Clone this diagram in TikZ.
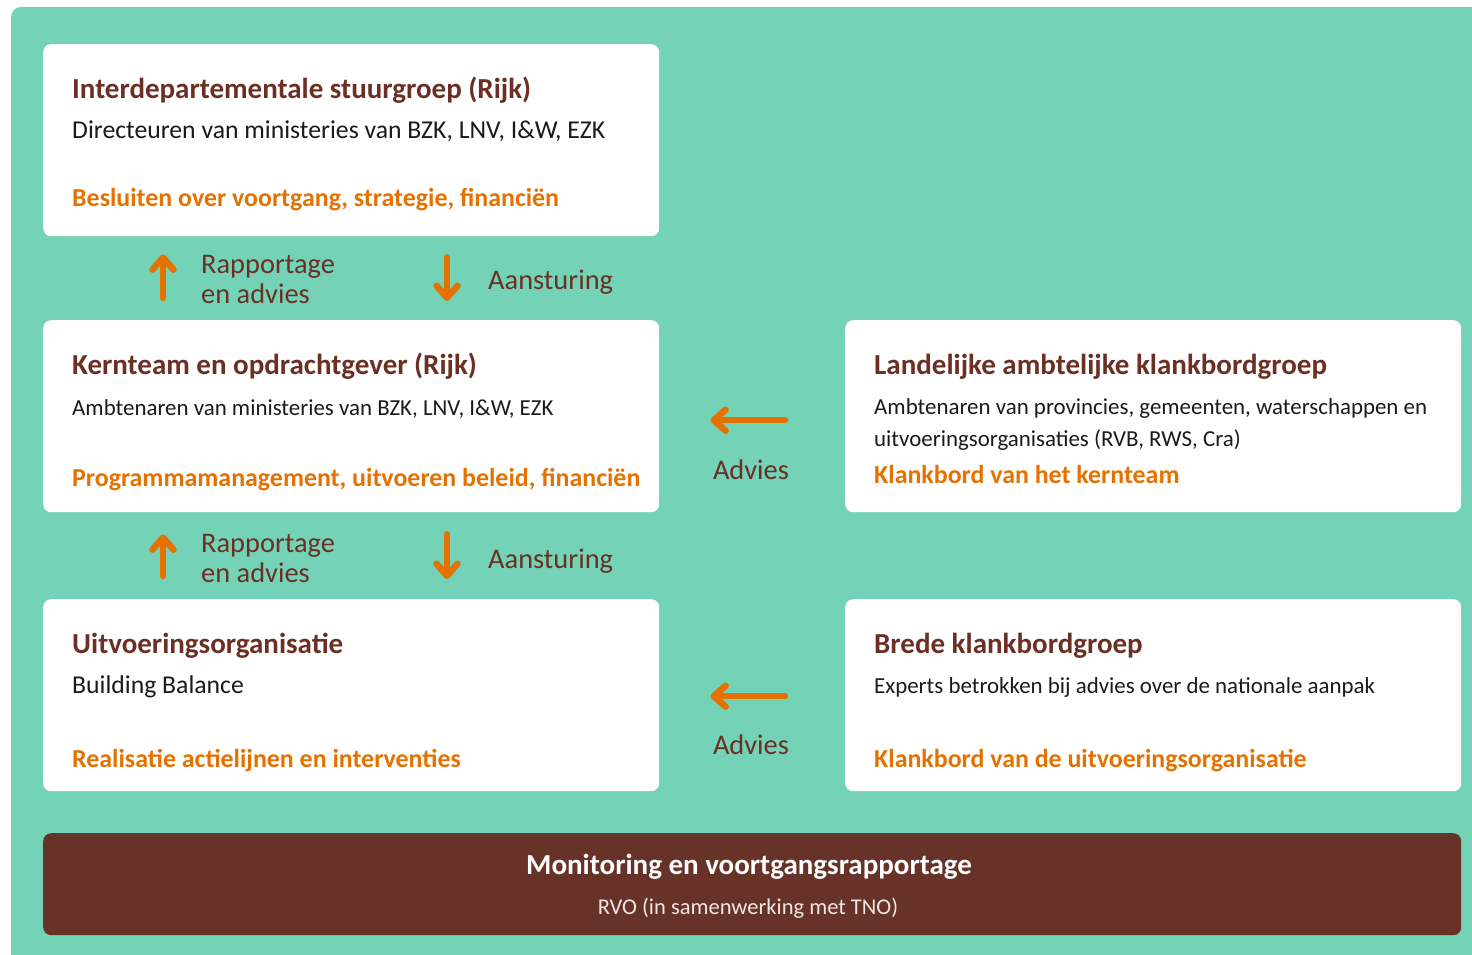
\documentclass[tikz,border=0pt]{standalone}
\usepackage{fontspec}
\setmainfont{Carlito}
\usetikzlibrary{arrows.meta}

\definecolor{mint}{HTML}{74D2B7}
\definecolor{bruin}{HTML}{673328}
\definecolor{kopbruin}{HTML}{6B2F24}
\definecolor{oranje}{HTML}{E57200}
\definecolor{tekstzwart}{HTML}{1A1A1A}
\definecolor{lichtroze}{HTML}{F2E6E4}

\tikzset{
  blok/.style={fill=white, rounded corners=8pt, anchor=north west,
    minimum width=616pt, minimum height=192pt, inner sep=0pt},
  kop/.style={anchor=base west, inner sep=0pt, text=kopbruin,
    font=\fontsize{29}{32}\selectfont\bfseries},
  tekst/.style={anchor=base west, inner sep=0pt, text=tekstzwart,
    font=\fontsize{25.7}{30}\selectfont},
  klein/.style={anchor=base west, inner sep=0pt, text=tekstzwart,
    font=\fontsize{22.9}{30}\selectfont},
  besluit/.style={anchor=base west, inner sep=0pt, text=oranje,
    font=\fontsize{25.9}{30}\selectfont\bfseries},
  label/.style={anchor=base west, inner sep=0pt, text=kopbruin,
    font=\fontsize{28.4}{30}\selectfont},
  pijl/.style={draw=oranje, line width=6.5pt, line cap=round,
    -{Straight Barb[length=12pt, width=21pt, round]}}
}

\begin{document}
\begin{tikzpicture}[x=1pt, y=-1pt]
  \clip (0,0) rectangle (1472,955);
  \fill[white] (0,0) rectangle (1472,955);

  % mint background
  \fill[mint, rounded corners=10pt] (11,980) -- (11,7) -- (1490,7) -- (1490,980) -- cycle;

  % boxes
  \node[blok] (stuur) at (43,44) {};
  \node[blok] (kern) at (43,320) {};
  \node[blok] (uitv) at (43,599) {};
  \node[blok] (landelijk) at (845,320) {};
  \node[blok] (breed) at (845,599) {};
  \node[blok, fill=bruin, minimum width=1418pt, minimum height=102pt] (monitor) at (43,833) {};

  % Interdepartementale stuurgroep
  \node[kop] at (72,99) {Interdepartementale stuurgroep (Rijk)};
  \node[tekst] at (72,139) {Directeuren van ministeries van BZK, LNV, I\&W, EZK};
  \node[besluit] at (72,206) {Besluiten over voortgang, strategie, financiën};

  % Kernteam
  \node[kop] at (72,374) {Kernteam en opdrachtgever (Rijk)};
  \node[klein] at (72,415) {Ambtenaren van ministeries van BZK, LNV, I\&W, EZK};
  \node[besluit] at (72,486) {Programmamanagement, uitvoeren beleid, financiën};

  % Uitvoeringsorganisatie
  \node[kop] at (72,653) {Uitvoeringsorganisatie};
  \node[tekst] at (72,693) {Building Balance};
  \node[besluit] at (72,767) {Realisatie actielijnen en interventies};

  % Landelijke klankbordgroep
  \node[kop] at (874,374) {Landelijke ambtelijke klankbordgroep};
  \node[klein] at (874,414) {Ambtenaren van provincies, gemeenten, waterschappen en};
  \node[klein] at (874,446) {uitvoeringsorganisaties (RVB, RWS, Cra)};
  \node[besluit] at (874,483) {Klankbord van het kernteam};

  % Brede klankbordgroep
  \node[kop] at (874,653) {Brede klankbordgroep};
  \node[klein] at (874,693) {Experts betrokken bij advies over de nationale aanpak};
  \node[besluit] at (874,767) {Klankbord van de uitvoeringsorganisatie};

  % Monitoring
  \node[kop, anchor=base, text=white, font=\fontsize{29}{32}\selectfont\bfseries] at (749,874) {Monitoring en voortgangsrapportage};
  \node[klein, anchor=base, text=lichtroze, font=\fontsize{22.5}{30}\selectfont] at (748,914) {RVO (in samenwerking met TNO)};

  % arrows between the columns
  \draw[pijl, shorten <=22pt, shorten >=18pt] ([xshift=120pt]kern.north west) -- ([xshift=120pt]stuur.south west);
  \draw[pijl, shorten <=21pt, shorten >=19pt] ([xshift=404pt]stuur.south west) -- ([xshift=404pt]kern.north west);
  \draw[pijl, shorten <=23pt, shorten >=22pt] ([xshift=120pt]uitv.north west) -- ([xshift=120pt]kern.south west);
  \draw[pijl, shorten <=22pt, shorten >=20pt] ([xshift=404pt]kern.south west) -- ([xshift=404pt]uitv.north west);
  \draw[pijl, shorten <=60pt, shorten >=51pt] ([yshift=-4pt]landelijk.west) -- ([yshift=-4pt]landelijk.west -| kern.east);
  \draw[pijl, shorten <=60pt, shorten >=51pt] ([yshift=-1pt]breed.west) -- ([yshift=-1pt]breed.west -| uitv.east);

  % arrow labels
  \node[label] at (201,273) {Rapportage};
  \node[label] at (201,303) {en advies};
  \node[label] at (488,289) {Aansturing};
  \node[label] at (201,552) {Rapportage};
  \node[label] at (201,582) {en advies};
  \node[label] at (488,568) {Aansturing};
  \node[label, anchor=base] at (751,479) {Advies};
  \node[label, anchor=base] at (751,754) {Advies};
\end{tikzpicture}
\end{document}
